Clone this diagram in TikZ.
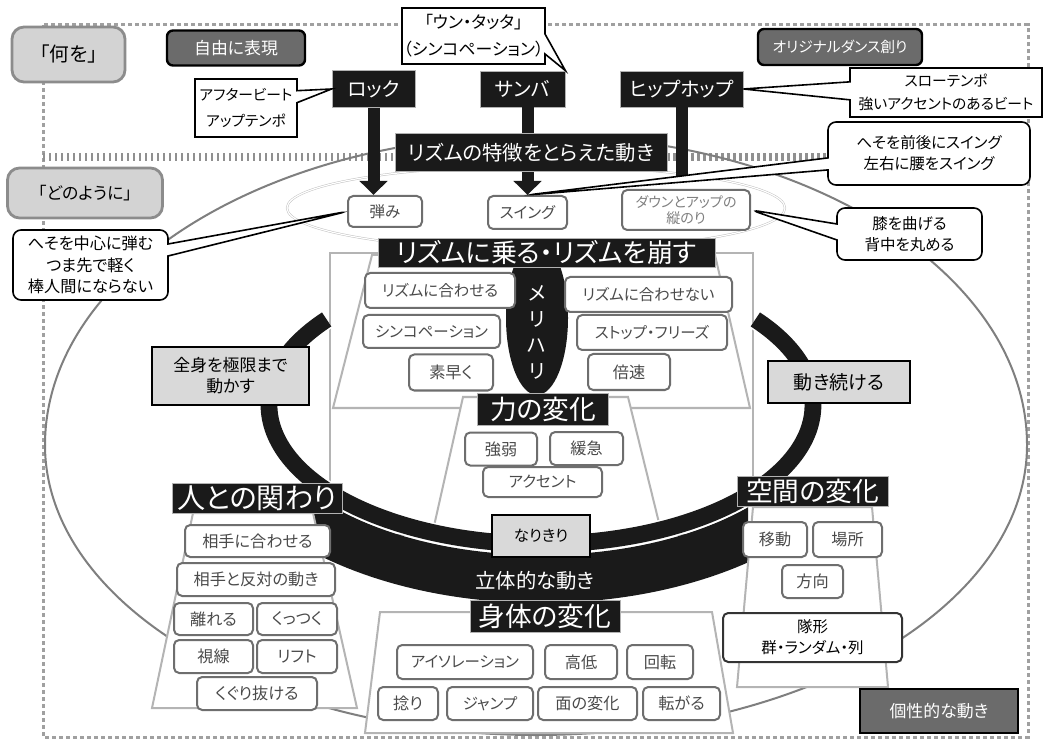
\documentclass[tikz,border=0pt]{standalone}
\usepackage{fontspec}
\setmainfont{Noto Sans CJK JP}[RawFeature=+palt]
\usetikzlibrary{shapes.callouts,arrows.meta}
\definecolor{nearblack}{HTML}{1A1A1A}
\definecolor{itemgray}{HTML}{6E6E6E}
\definecolor{textgray}{HTML}{4A4A4A}
\definecolor{keyfill}{HTML}{D3D3D3}
\definecolor{keyline}{HTML}{8C8C8C}
\definecolor{darkfill}{HTML}{6B6B6B}
\definecolor{notefill}{HTML}{D9D9D9}
\definecolor{framegray}{HTML}{B4B4B4}
\definecolor{dotgray}{HTML}{A0A0A0}
\definecolor{ringgray}{HTML}{7F7F7F}
\begin{document}
\begin{tikzpicture}%
	[x=0.025cm,
	y=-0.025cm,
	sz/.style 2 args={minimum width=#1*0.025cm, minimum height=#2*0.025cm},
	fs/.style 2 args={font=\fontsize{#1}{#2}\selectfont},
	dotline/.style={draw=dotgray, line width=0.075cm, dash pattern=on 0.1cm off 0.075cm},
	heavydot/.style={draw=dotgray!90!black, line width=0.2cm, dash pattern=on 0.06cm off 0.09cm},
	bigoval/.style={draw=ringgray, line width=0.05cm},
	inneroval/.style={draw=black!25, line width=0.012cm, double=white, double distance=0.03cm},
	trapframe/.style={draw=framegray, line width=0.05cm, fill=white},
	bandfill/.style={fill=nearblack},
	ringline/.style={draw=white, line width=0.04cm, double=nearblack, double distance=0.42cm},
	bigarrow/.style={draw=nearblack, line width=0.3cm, -{Triangle[length=0.35cm, width=0.68cm]}},
	barline/.style={draw=nearblack, line width=0.3cm},
	keybox/.style={draw=keyline, line width=0.07cm, fill=keyfill, rounded corners=0.3cm, inner sep=0pt},
	darkbox/.style={draw=black, line width=0.06cm, fill=darkfill, text=white, rounded corners=0.15cm, inner sep=0pt},
	titlebox/.style={draw=black!30, line width=0.02cm, fill=nearblack, text=white, inner sep=0pt},
	itembox/.style={draw=itemgray, line width=0.05cm, rounded corners=0.13cm, fill=white, text=textgray, inner sep=0pt, fs={11}{13}},
	kanji/.style={fs={11.5}{14}},
	notebox/.style={draw=black, line width=0.05cm, fill=notefill, inner sep=0pt, align=center},
	talkbox/.style={rectangle callout, draw=black, line width=0.04cm, fill=white, inner sep=0pt, align=center, callout pointer width=0.3cm}]
	\useasboundingbox (0,0) rectangle (1043,740);
	%%
	%% Dotted frames
	%%
	\draw[dotline] (43,25) rectangle (1028,737);
	\draw[heavydot] (43,157) -- (1028,157);
	%%
	%% Ovals
	%%
	\draw[bigoval] (45,445) arc[start angle=180, end angle=360, x radius=491, y radius=310];
	\draw[bigoval] (1027,445) arc[start angle=0, end angle=180, x radius=491, y radius=290];
	\draw[inneroval] (536,208) ellipse [x radius=249, y radius=42];
	%%
	%% Frame and band
	%%
	\filldraw[trapframe] (330,253) rectangle (753,535);
	\begin{scope}
	\clip (300,470) rectangle (748,620);
	\fill[bandfill, even odd rule] (541,405) ellipse [x radius=341, y radius=198] (541,405) ellipse [x radius=283, y radius=150];
	\end{scope}
	%%
	%% Trapezoids
	%%
	\filldraw[trapframe] (372,255) -- (715,255) -- (750,408) -- (333,408) -- cycle;
	\filldraw[trapframe] (463,397) -- (628,397) -- (662,535) -- (432,535) -- cycle;
	\filldraw[trapframe] (193,513) -- (313,513) -- (357,708) -- (152,708) -- cycle;
	\filldraw[trapframe] (380,612) -- (712,612) -- (733,733) -- (365,733) -- cycle;
	\filldraw[trapframe] (753,507) -- (872,507) -- (888,687) -- (737,687) -- cycle;
	%%
	%% Ring
	%%
	\draw[ringline] (541,405) ++(218:272 and 139) arc[start angle=218, end angle=-38, x radius=272, y radius=139];
	%%
	%% What / how
	%%
	\node[keybox, sz={113}{55}, fs={14}{16}] (what) at (68.5,54.5) {「何を」};
	\node[keybox, sz={155}{50}, fs={12}{14}] (how) at (85,193) {「どのように」};
	\node[darkbox, sz={138}{35}, fs={12}{14}] (free) at (236,48) {自由に表現};
	\node[darkbox, sz={164}{36}, fs={10.5}{12}] (original) at (840,47) {オリジナルダンス創り};
	\node[darkbox, sharp corners, sz={158}{44}, fs={12}{14}] (personal) at (939,711) {個性的な動き};
	%%
	%% Genres
	%%
	\node[titlebox, sz={83}{37}, fs={14}{16}] (rock) at (373.5,89) {ロック};
	\node[titlebox, sz={85}{36}, fs={14}{16}] (samba) at (522.5,89) {サンバ};
	\node[titlebox, sz={123}{36}, fs={14}{16}] (hiphop) at (681.5,89) {ヒップホップ};
	\node[itembox, sz={74}{31}] (hazumi) at (385,211.5) {弾み};
	\node[itembox, sz={79}{33}] (swing) at (527.5,212.5) {スイング};
	\node[itembox, sz={128}{40}, fs={10}{11.5}, align=center, text=gray] (updown) at (686,210) {ダウンとアップの\\縦のり};
	\draw[bigarrow] (rock.south) -- (rock.south |- hazumi.north);
	\draw[bigarrow] (swing.north |- samba.south) -- (swing.north);
	\draw[barline, shorten >=0.3cm] (hiphop.south) -- (hiphop.south |- updown.north);
	\node[titlebox, sz={272}{38}, fs={14.5}{16}] (feature) at (531,152.5) {リズムの特徴をとらえた動き};
	%%
	%% Callouts
	%%
	\node[talkbox, sz={143}{56}, fs={12}{19}, callout pointer width=0.5cm, callout absolute pointer={(samba.north east)}] (untatta) at (473.5,36) {「ウン・タッタ」\\（シンコペーション）};
	\node[talkbox, sz={102}{58}, fs={10.5}{18}, callout absolute pointer={(rock.west)}] (afterbeat) at (246,108) {アフタービート\\アップテンポ};
	\node[talkbox, sz={192}{49}, fs={10.5}{16}, callout pointer width=0.45cm, callout absolute pointer={(hiphop.east)}] (slow) at (946,92.5) {スローテンポ\\強いアクセントのあるビート};
	\node[talkbox, rounded corners=0.2cm, sz={202}{63}, fs={11}{15}, callout absolute pointer={(swing.north)}] (navelswing) at (929,153.5) {へそを前後にスイング\\左右に腰をスイング};
	\node[talkbox, rounded corners=0.2cm, sz={145}{52}, fs={11}{15}, callout pointer width=0.4cm, callout absolute pointer={(updown.east)}] (knee) at (909.5,234) {膝を曲げる\\背中を丸める};
	\node[talkbox, rounded corners=0.2cm, sz={155}{70}, fs={11.5}{15.5}, callout absolute pointer={(hazumi.west)}] (navelbounce) at (90.5,265) {へそを中心に弾む\\つま先で軽く\\棒人間にならない};
	%%
	%% Ride and break the rhythm
	%%
	\fill[nearblack] (537,318) ellipse [x radius=31, y radius=77];
	\node[titlebox, sz={337}{29}, fs={18.5}{20}] (ride) at (546.5,252.5) {リズムに乗る・リズムを崩す};
	\node[text=white, align=center, fs={14}{18.5}] (merihari) at (537,332) {メ\\リ\\ハ\\リ};
	\node[itembox, sz={150}{35}] (fit) at (440,290.5) {リズムに合わせる};
	\node[itembox, sz={137}{33}] (synco) at (431.5,331.5) {シンコペーション};
	\node[itembox, kanji, sz={84}{36}] (quick) at (451,372.5) {素早く};
	\node[itembox, sz={167}{35}] (unfit) at (648.5,294.5) {リズムに合わせない};
	\node[itembox, sz={150}{35}] (stop) at (652,332.5) {ストップ・フリーズ};
	\node[itembox, kanji, sz={82}{36}] (doublespeed) at (629,372) {倍速};
	%%
	%% Force
	%%
	\node[titlebox, sz={131}{32}, fs={19}{21}] (force) at (543,409) {力の変化};
	\node[itembox, kanji, sz={72}{33}] (strength) at (501,449) {強弱};
	\node[itembox, kanji, sz={73}{33}] (slowfast) at (586.5,448.5) {緩急};
	\node[itembox, sz={119}{30}] (accent) at (542.5,482) {アクセント};
	%%
	%% Notes on the ring
	%%
	\node[notebox, sz={157}{58}, fs={12}{15}] (fullbody) at (230.5,376) {全身を極限まで\\動かす};
	\node[notebox, sz={142}{42}, fs={13.5}{15}] (keepmoving) at (839,382) {動き続ける};
	\node[notebox, sz={98}{42}, fs={11}{13}] (become) at (541,536) {なりきり};
	\node[text=white, fs={14.5}{16}] (solid) at (535,581) {立体的な動き};
	%%
	%% People
	%%
	\node[titlebox, sz={170}{30}, fs={20}{22}] (people) at (257,498) {人との関わり};
	\node[itembox, kanji, sz={145}{32}] (match) at (257.5,541) {相手に合わせる};
	\node[itembox, kanji, sz={158}{33}] (opposite) at (256,579.5) {相手と反対の動き};
	\node[itembox, kanji, sz={79}{32}] (apart) at (213.5,619) {離れる};
	\node[itembox, kanji, sz={80}{32}] (stick) at (297,619) {くっつく};
	\node[itembox, kanji, sz={79}{33}] (gaze) at (213.5,656.5) {視線};
	\node[itembox, kanji, sz={80}{33}] (lift) at (297,656.5) {リフト};
	\node[itembox, kanji, sz={120}{33}] (through) at (257,693.5) {くぐり抜ける};
	%%
	%% Body
	%%
	\node[titlebox, sz={150}{32}, fs={19}{21}] (body) at (545,616) {身体の変化};
	\node[itembox, sz={136}{34}] (isolation) at (465,662) {アイソレーション};
	\node[itembox, kanji, sz={72}{34}] (level) at (581,662) {高低};
	\node[itembox, kanji, sz={66}{34}] (turn) at (660,662) {回転};
	\node[itembox, kanji, sz={60}{33}] (twist) at (408,703.5) {捻り};
	\node[itembox, sz={86}{33}] (jump) at (490,703.5) {ジャンプ};
	\node[itembox, kanji, sz={99}{33}] (plane) at (587.5,703.5) {面の変化};
	\node[itembox, kanji, sz={77}{33}] (roll) at (681.5,703.5) {転がる};
	%%
	%% Space
	%%
	\node[titlebox, sz={151}{30}, fs={19}{21}] (space) at (812.5,491) {空間の変化};
	\node[itembox, kanji, sz={64}{35}] (move) at (775,539.5) {移動};
	\node[itembox, kanji, sz={69}{35}] (place) at (847.5,539.5) {場所};
	\node[itembox, kanji, sz={61}{33}] (direction) at (812.5,581.5) {方向};
	\node[itembox, draw=black!80, text=black, align=center, sz={179}{49}, fs={11}{15}] (formation) at (812.5,637.5) {隊形\\群・ランダム・列};
	%%
	%%
\end{tikzpicture}
\end{document}
